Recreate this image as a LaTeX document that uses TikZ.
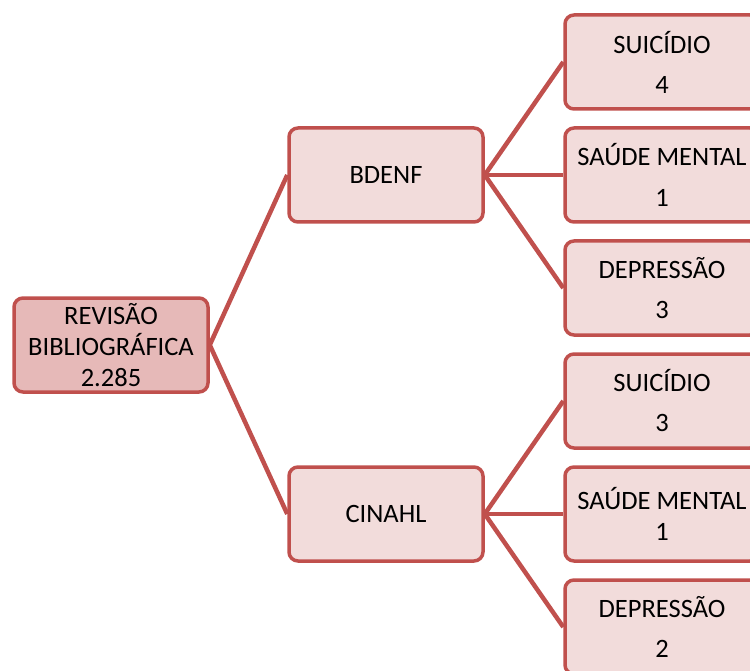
\documentclass[tikz,border=0pt]{standalone}
\usepackage{fontspec}
\setmainfont{Carlito}
\usepackage{tikz}
\usetikzlibrary{positioning}
\definecolor{boxred}{RGB}{192, 80, 77}
\definecolor{boxpink}{RGB}{242, 220, 219}
\definecolor{rootpink}{RGB}{230, 185, 184}

\begin{document}
\begin{tikzpicture}[x=1pt, y=-1pt,
        box/.style={draw=boxred, fill=boxpink, line width=3.5pt, rounded corners=9pt,
                    minimum width=194pt, minimum height=94pt, align=center,
                    inner sep=0pt, font=\fontsize{26.5}{31}\selectfont},
        rootbox/.style={box, fill=rootpink},
        link/.style={draw=boxred, line width=4.5pt}]
    % Frame
    \useasboundingbox (0,0) rectangle (750,671);
    \clip (0,0) rectangle (750,671);
    % Root
    \node[rootbox] (revisao) at (111,345) {REVIS\~AO\\BIBLIOGR\'AFICA\\2.285};
    % Databases
    \node[box] (bdenf)  at (386,175) {BDENF};
    \node[box] (cinahl) at (386,514) {CINAHL};
    % BDENF results
    \node[box] (bsuic) at (662, 62) {SUIC\'IDIO\\[9pt]4};
    \node[box] (bsaud) at (662,175) {SA\'UDE MENTAL\\[10pt]1};
    \node[box] (bdepr) at (662,288) {DEPRESS\~AO\\[9pt]3};
    % CINAHL results
    \node[box] (csuic) at (662,401) {SUIC\'IDIO\\[9pt]3};
    \node[box] (csaud) at (662,514) {SA\'UDE MENTAL\\1};
    \node[box] (cdepr) at (662,627) {DEPRESS\~AO\\[9pt]2};
    % Links
    \draw[link] (revisao.east) -- (bdenf.west);
    \draw[link] (revisao.east) -- (cinahl.west);
    \foreach \leaf in {bsuic, bsaud, bdepr}
        \draw[link] (bdenf.east) -- (\leaf.west);
    \foreach \leaf in {csuic, csaud, cdepr}
        \draw[link] (cinahl.east) -- (\leaf.west);
\end{tikzpicture}
\end{document}
